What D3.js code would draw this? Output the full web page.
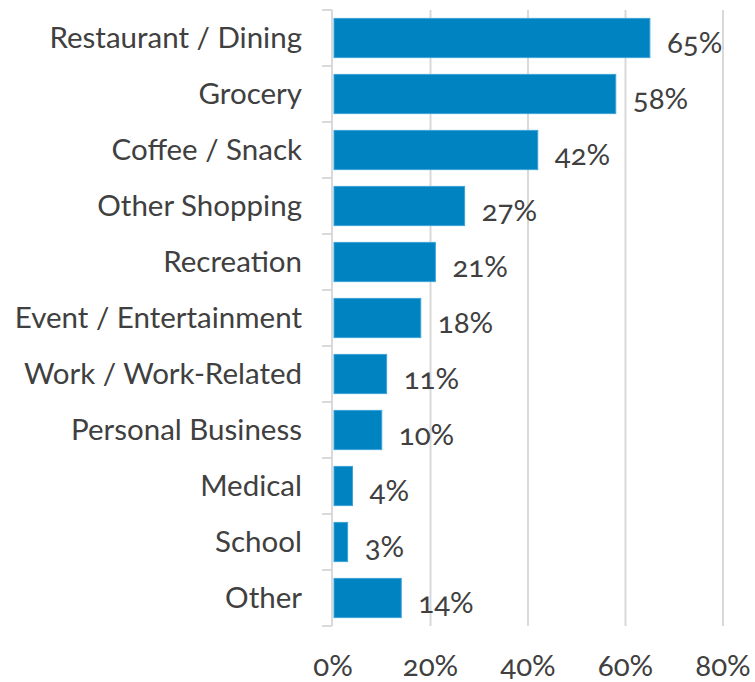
<!DOCTYPE html>
<html>
<head>
<meta charset="utf-8">
<script src="https://cdn.jsdelivr.net/npm/d3@7"></script>
<style>
  html, body { margin: 0; padding: 0; background: #fff; }
  svg text { font-family: "Lato", "Open Sans", sans-serif; fill: #404040; font-variant-numeric: oldstyle-nums; }
</style>
</head>
<body>
<svg id="chart" width="755" height="682"></svg>
<script>
// Trip purposes and share of respondents (%)
const categories = [
  "Restaurant / Dining", "Grocery", "Coffee / Snack", "Other Shopping",
  "Recreation", "Event / Entertainment", "Work / Work-Related",
  "Personal Business", "Medical", "School", "Other"
];
const values = [65, 58, 42, 27, 21, 18, 11, 10, 4, 3, 14];
const xTicks = [0, 20, 40, 60, 80];

const svg = d3.select("#chart");
const margin = { top: 10, right: 32, bottom: 56, left: 333 };
const W = 755, H = 682;
const fontSize = 29.5;

const x = d3.scaleLinear().domain([0, 80]).range([margin.left, W - margin.right]);
const y = d3.scaleBand().domain(categories).range([margin.top, H - margin.bottom]).paddingInner(0.3).paddingOuter(0.15);

// vertical gridlines
svg.append("g").selectAll("line").data(xTicks.filter(d => d > 0)).join("line")
  .attr("x1", d => x(d)).attr("x2", d => x(d))
  .attr("y1", margin.top).attr("y2", H - margin.bottom)
  .attr("stroke", "#d9d9d9").attr("stroke-width", 2);

// category axis with band-boundary ticks
const yAxisG = svg.append("g");
yAxisG.append("line")
  .attr("x1", x(0) - 1).attr("x2", x(0) - 1)
  .attr("y1", margin.top).attr("y2", H - margin.bottom)
  .attr("stroke", "#d9d9d9").attr("stroke-width", 2);
const bounds = d3.range(categories.length + 1).map(i => margin.top + i * (H - margin.top - margin.bottom) / categories.length);
yAxisG.selectAll("line.tick").data(bounds).join("line").attr("class", "tick")
  .attr("x1", x(0) - 11).attr("x2", x(0) - 1)
  .attr("y1", d => d).attr("y2", d => d)
  .attr("stroke", "#d9d9d9").attr("stroke-width", 2);

yAxisG.selectAll("text").data(categories).join("text")
  .attr("x", 302).attr("y", d => y(d) + y.bandwidth() / 2)
  .attr("dy", "0.35em").attr("text-anchor", "end")
  .attr("font-size", fontSize).text(d => d);

// bars
const bars = categories.map((c, i) => ({ c, v: values[i] }));
svg.append("g").selectAll("rect").data(bars).join("rect")
  .attr("x", x(0) + 1).attr("y", d => y(d.c))
  .attr("width", d => x(d.v) - x(0) - 1).attr("height", y.bandwidth())
  .attr("fill", "#0083c1").attr("stroke", "#3fa3d8").attr("stroke-width", 1);

// value labels
svg.append("g").selectAll("text").data(bars).join("text")
  .attr("x", d => x(d.v) + 17).attr("y", d => y(d.c) + y.bandwidth() / 2 + 5)
  .attr("dy", "0.35em").attr("font-size", fontSize)
  .text(d => d.v + "%");

// x tick labels
svg.append("g").selectAll("text").data(xTicks).join("text")
  .attr("x", d => x(d)).attr("y", 666)
  .attr("dy", "0.35em").attr("text-anchor", "middle").attr("font-size", fontSize)
  .text(d => d + "%");
</script>
</body>
</html>
